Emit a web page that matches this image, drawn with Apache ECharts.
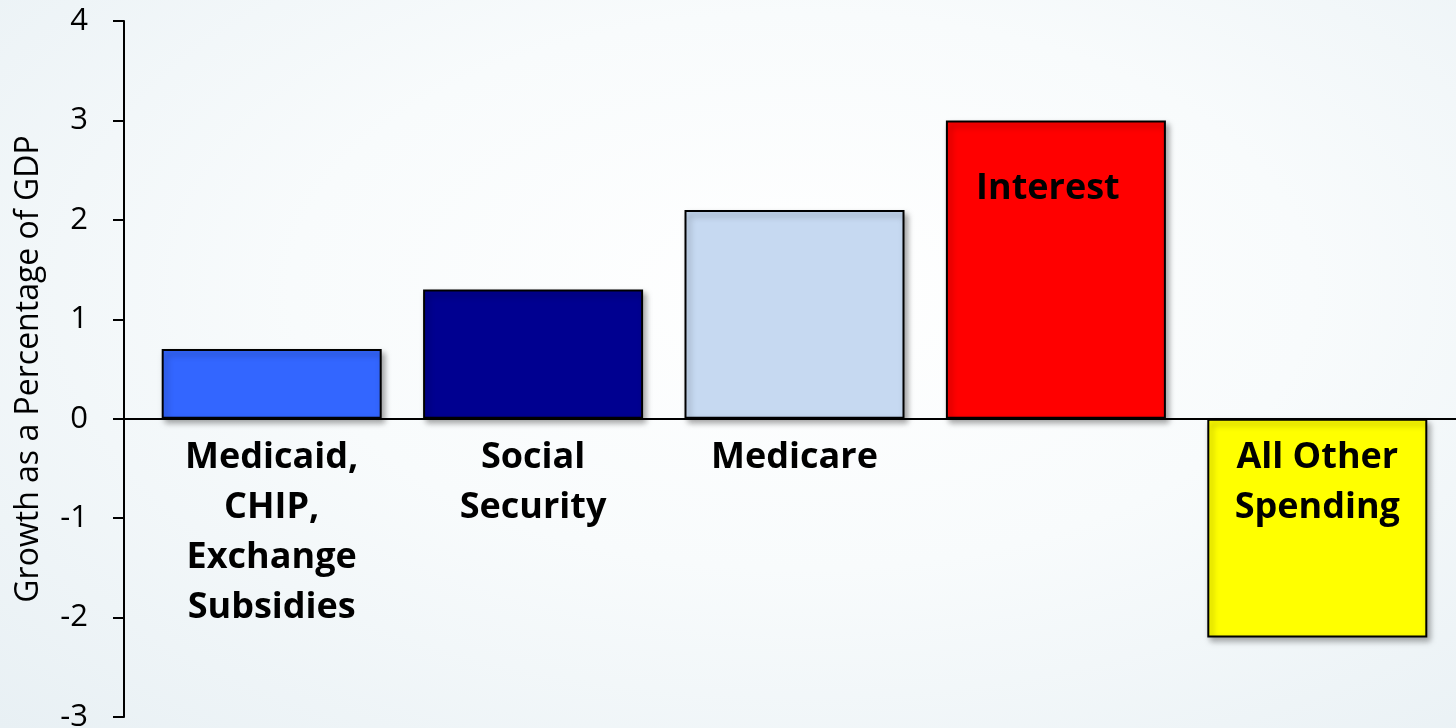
<!DOCTYPE html>
<html><head><meta charset="utf-8">
<script src="https://cdn.jsdelivr.net/npm/echarts@6/dist/echarts.min.js"></script>
<style>html,body{margin:0;padding:0;}#c{width:1456px;height:728px;background:radial-gradient(ellipse at 55% 40%, #ffffff 0%, #f8fbfc 45%, #e8f0f4 100%);}</style>
</head><body><div id="c"></div>
<script>
const categories = ['Medicaid,\nCHIP,\nExchange\nSubsidies', 'Social\nSecurity', 'Medicare', 'Interest', 'All Other\nSpending'];
const values = [0.7, 1.3, 2.1, 3.0, -2.2];
const barColors = ['#3366FF', '#000090', '#C6D9F1', '#FF0000', '#FFFF00'];
const insideLabelCategory = 'Interest';
const yTicks = {min: -3, max: 4, interval: 1};
const yName = 'Growth as a Percentage of GDP';

const chart = echarts.init(document.getElementById('c'));
const FONT = 'Open Sans';
const TOP = 21, BOTTOM = 11, H = 728;
const plotH = H - TOP - BOTTOM;
const zeroFromBottom = plotH * (0 - yTicks.min) / (yTicks.max - yTicks.min);
const yBase = {type: 'value', min: yTicks.min, max: yTicks.max, interval: yTicks.interval, splitLine: {show: false}};
chart.setOption({
  backgroundColor: 'transparent',
  animation: false,
  grid: [
    {left: 124, right: 0, top: TOP, bottom: BOTTOM, outerBoundsMode: 'none'},
    {left: 141, right: 8, top: TOP, bottom: BOTTOM, outerBoundsMode: 'none'}
  ],
  xAxis: [{
    gridIndex: 0, type: 'category', data: categories,
    axisLine: {onZero: true, lineStyle: {color: '#000', width: 2}},
    axisTick: {show: false}, axisLabel: {show: false}
  }, {
    gridIndex: 1, type: 'category', data: categories, position: 'bottom',
    offset: -zeroFromBottom, z: 20,
    axisLine: {show: false, onZero: false},
    axisTick: {show: false},
    axisLabel: {
      show: true, interval: 0, margin: 14, color: '#000', fontFamily: FONT, fontWeight: 'bold', fontSize: 36, lineHeight: 50,
      verticalAlign: 'top',
      formatter: v => v === insideLabelCategory ? '' : v
    }
  }],
  yAxis: [Object.assign({}, yBase, {
    gridIndex: 0,
    name: yName, nameLocation: 'middle', nameGap: 79, nameRotate: 90,
    nameTextStyle: {color: '#000', fontFamily: FONT, fontSize: 32},
    axisLine: {show: true, lineStyle: {color: '#000', width: 2}},
    axisTick: {show: true, length: 11, lineStyle: {color: '#000', width: 2}},
    axisLabel: {color: '#000', fontFamily: FONT, fontSize: 31, margin: 36}
  }), Object.assign({}, yBase, {
    gridIndex: 1, show: false
  })],
  series: [{
    type: 'bar', xAxisIndex: 1, yAxisIndex: 1, barWidth: 220,
    data: values.map((v, i) => ({
      value: v,
      itemStyle: {color: barColors[i]},
      label: categories[i] === insideLabelCategory ? {
        show: true, position: 'insideTop', distance: 48, offset: [-8, 0], formatter: categories[i], lineHeight: 40,
        color: '#000', fontFamily: FONT, fontWeight: 'bold', fontSize: 36
      } : {show: false}
    })),
    itemStyle: {borderColor: '#000', borderWidth: 2, shadowColor: 'rgba(0,0,0,0.35)', shadowBlur: 6, shadowOffsetX: 3, shadowOffsetY: 4}
  }]
});
</script></body></html>
